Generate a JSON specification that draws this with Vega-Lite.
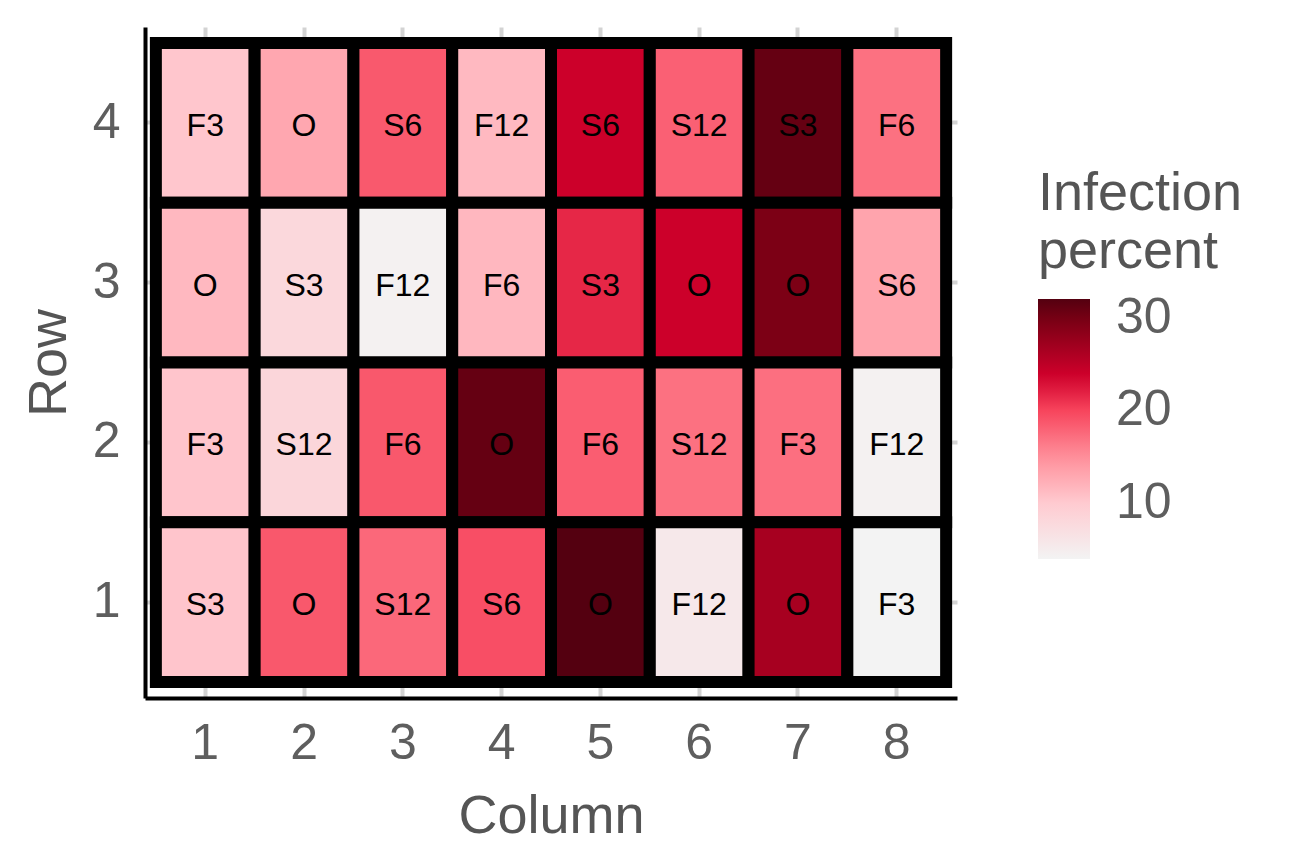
{
  "$schema": "https://vega.github.io/schema/vega-lite/v6.json",
  "autosize": {"type": "none"},
  "padding": {"left": 145, "top": 27, "right": 339, "bottom": 166},
  "width": 812,
  "height": 671,
  "background": "white",
  "config": {
    "view": {"stroke": null},
    "font": "Liberation Sans",
    "axis": {"labelFont": "Liberation Sans", "titleFont": "Liberation Sans"},
    "legend": {"labelFont": "Liberation Sans", "titleFont": "Liberation Sans"}
  },
  "data": {
    "values": [
      {"col": 1, "row": 4, "trt": "F3", "pct": 10.3},
      {"col": 2, "row": 4, "trt": "O", "pct": 13.0},
      {"col": 3, "row": 4, "trt": "S6", "pct": 18.6},
      {"col": 4, "row": 4, "trt": "F12", "pct": 11.4},
      {"col": 5, "row": 4, "trt": "S6", "pct": 24.0},
      {"col": 6, "row": 4, "trt": "S12", "pct": 18.1},
      {"col": 7, "row": 4, "trt": "S3", "pct": 31.0},
      {"col": 8, "row": 4, "trt": "F6", "pct": 17.0},
      {"col": 1, "row": 3, "trt": "O", "pct": 11.5},
      {"col": 2, "row": 3, "trt": "S3", "pct": 8.0},
      {"col": 3, "row": 3, "trt": "F12", "pct": 4.3},
      {"col": 4, "row": 3, "trt": "F6", "pct": 11.6},
      {"col": 5, "row": 3, "trt": "S3", "pct": 21.6},
      {"col": 6, "row": 3, "trt": "O", "pct": 24.0},
      {"col": 7, "row": 3, "trt": "O", "pct": 29.6},
      {"col": 8, "row": 3, "trt": "S6", "pct": 13.2},
      {"col": 1, "row": 2, "trt": "F3", "pct": 10.4},
      {"col": 2, "row": 2, "trt": "S12", "pct": 8.2},
      {"col": 3, "row": 2, "trt": "F6", "pct": 18.7},
      {"col": 4, "row": 2, "trt": "O", "pct": 31.0},
      {"col": 5, "row": 2, "trt": "F6", "pct": 18.3},
      {"col": 6, "row": 2, "trt": "S12", "pct": 17.0},
      {"col": 7, "row": 2, "trt": "F3", "pct": 17.1},
      {"col": 8, "row": 2, "trt": "F12", "pct": 4.2},
      {"col": 1, "row": 1, "trt": "S3", "pct": 10.4},
      {"col": 2, "row": 1, "trt": "O", "pct": 18.7},
      {"col": 3, "row": 1, "trt": "S12", "pct": 17.6},
      {"col": 4, "row": 1, "trt": "S6", "pct": 19.3},
      {"col": 5, "row": 1, "trt": "O", "pct": 32.06},
      {"col": 6, "row": 1, "trt": "F12", "pct": 5.5},
      {"col": 7, "row": 1, "trt": "O", "pct": 26.6},
      {"col": 8, "row": 1, "trt": "F3", "pct": 3.93}
    ]
  },
  "encoding": {
    "x": {
      "field": "col", "type": "ordinal", "title": "Column",
      "scale": {"paddingInner": 0, "paddingOuter": 0.11},
      "axis": {
        "zindex": 0,
        "labelAngle": 0, "ticks": false, "bandPosition": 0.5,
        "labelFontSize": 50, "labelColor": "#5E5E5E", "labelPadding": 20,
        "titleFontSize": 54, "titleColor": "#555555", "titleFontWeight": "normal",
        "titleBaseline": "alphabetic", "titleY": 134,
        "domainColor": "black", "domainWidth": 4,
        "grid": true, "gridColor": "#D3D3D3", "gridWidth": 4
      }
    },
    "y": {
      "field": "row", "type": "ordinal", "title": "Row", "sort": "descending",
      "scale": {"paddingInner": 0, "paddingOuter": 0.1},
      "axis": {
        "zindex": 0,
        "ticks": false, "bandPosition": 0.5,
        "labelFontSize": 50, "labelColor": "#5E5E5E", "labelPadding": 25,
        "titleFontSize": 54, "titleColor": "#555555", "titleFontWeight": "normal",
        "titleBaseline": "alphabetic", "titleX": -80, "titleAngle": -90,
        "domainColor": "black", "domainWidth": 4,
        "grid": true, "gridColor": "#D3D3D3", "gridWidth": 4
      }
    }
  },
  "layer": [
    {
      "mark": {"type": "rect", "stroke": "black", "strokeWidth": 12},
      "encoding": {
        "color": {
          "field": "pct", "type": "quantitative",
          "scale": {
            "domain": [3.93, 10, 15, 20, 23.7, 30, 32.06],
            "range": ["#F3F3F3", "#FFCAD0", "#FF8F9A", "#F7445C", "#D0002B", "#760014", "#540010"],
            "interpolate": "rgb"
          },
          "legend": {
            "title": ["Infection", "percent"],
            "orient": "none", "legendX": 893, "legendY": 140,
            "direction": "vertical",
            "values": [10, 20, 30],
            "gradientLength": 260, "gradientThickness": 52, "gradientStrokeWidth": 0,
            "labelFontSize": 50, "labelColor": "#5E5E5E", "labelOffset": 26,
            "titleFontSize": 54, "titleColor": "#555555", "titleFontWeight": "normal",
            "titleLimit": 500, "labelLimit": 300,
            "titleLineHeight": 58, "titlePadding": 20, "tickCount": 3
          }
        }
      }
    },
    {
      "mark": {"type": "text", "fontSize": 32, "color": "black", "font": "Liberation Sans", "dy": 3},
      "encoding": {"text": {"field": "trt"}}
    }
  ]
}
